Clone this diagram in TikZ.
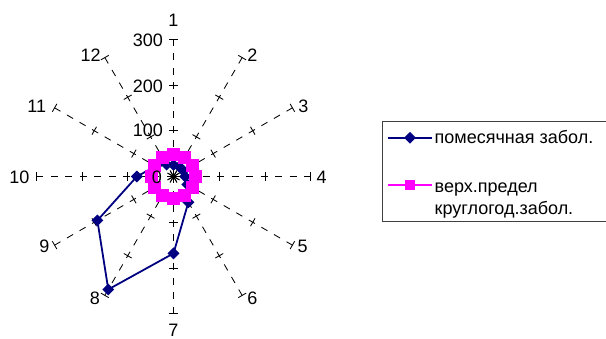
\documentclass[tikz,border=0pt]{standalone}
\usepackage{fontspec}
\setmainfont{Liberation Sans}
\usetikzlibrary{calc,shapes.geometric}
\definecolor{navyc}{RGB}{0,0,128}
\definecolor{magc}{RGB}{255,0,255}
\begin{document}
\begin{tikzpicture}[x=1pt,y=1pt,
  axisline/.style={black,line width=0.85pt,dash pattern=on 7pt off 7.5pt},
  tickmark/.style={black,line width=0.85pt},
  blueline/.style={draw=navyc,line width=1.8pt,line join=round},
  bluemark/.style={diamond,fill=navyc,draw=none,minimum width=12pt,minimum height=12pt,inner sep=0pt},
  magline/.style={draw=magc,line width=7pt,line join=miter},
  magmark/.style={rectangle,fill=magc,draw=none,minimum size=13.5pt,inner sep=0pt},
  legmag/.style={rectangle,fill=magc,draw=none,minimum size=10pt,inner sep=0pt},
  lbl/.style={font=\fontsize{18}{21}\selectfont,inner sep=0pt,text=black}]
\useasboundingbox (0,0) rectangle (606,339);
\coordinate (O) at (173.5,162.5);
% axes with ticks
\foreach \k in {1,...,12}{
  \pgfmathsetmacro\a{90-30*(\k-1)}
  \draw[axisline] (O) -- ($(O)+(\a:137.3)$) coordinate (A\k);
  \foreach \r in {45.77,91.53,137.3}{
    \draw[tickmark] ($(O)+(\a:\r)+(\a+90:4.5)$) -- ($(O)+(\a:\r)+(\a-90:4.5)$);
  }
}
% blue series (monthly)
\foreach \k/\v in {1/25,2/25,3/25,4/25,5/35,6/65,7/168,8/285,9/192,10/80,11/45,12/30}{
  \pgfmathsetmacro\a{90-30*(\k-1)}
  \coordinate (B\k) at ($(O)+(\a:\v*0.4577)$);
}
\draw[blueline] (B1)--(B2)--(B3)--(B4)--(B5)--(B6)--(B7)--(B8)--(B9)--(B10)--(B11)--(B12)--cycle;
\foreach \k in {1,...,12}{\node[bluemark] (BM\k) at (B\k) {};}
% magenta series (upper limit)
\foreach \k in {1,...,12}{
  \pgfmathsetmacro\a{90-30*(\k-1)}
  \coordinate (M\k) at ($(O)+(\a:22)$);
}
\draw[magline] (M1)--(M2)--(M3)--(M4)--(M5)--(M6)--(M7)--(M8)--(M9)--(M10)--(M11)--(M12)--cycle;
\foreach \k in {1,...,12}{\node[magmark] (MM\k) at (M\k) {};}
% centre star
\foreach \k in {1,...,12}{
  \draw[tickmark] (O) -- ($(O)!6.5pt!(A\k)$);
}
% value labels
\node[lbl,anchor=east] (v0) at (162,162) {0};
\node[lbl,anchor=east] (v100) at (163,208.7) {100};
\node[lbl,anchor=east] (v200) at (163,253) {200};
\node[lbl,anchor=east] (v300) at (163,298.3) {300};
% axis category labels
\node[lbl] (L1) at (173.3,319) {1};
\node[lbl] (L2) at (252.3,284) {2};
\node[lbl] (L3) at (303.3,233) {3};
\node[lbl] (L4) at (321.7,162) {4};
\node[lbl] (L5) at (302.7,92.3) {5};
\node[lbl] (L6) at (252.3,40.7) {6};
\node[lbl] (L7) at (173.3,8.5) {7};
\node[lbl] (L8) at (95,40.7) {8};
\node[lbl] (L9) at (44.3,92.3) {9};
\node[lbl] (L10) at (19.3,162) {10};
\node[lbl] (L11) at (36.7,233) {11};
\node[lbl] (L12) at (90.7,284) {12};
% legend
\draw[black!75,line width=0.8pt] (607,217.3) -- (382.5,217.3) -- (382.5,118) -- (607,118);
\coordinate (la1) at (388.3,201.3);
\coordinate (lb1) at (431.7,201.3);
\draw[blueline] (la1) -- (lb1);
\node[bluemark] (lm1) at ($(la1)!0.5!(lb1)$) {};
\node[lbl,anchor=base west] (lt1) at (434.5,195) {помесячная забол.};
\coordinate (la2) at (388.3,154);
\coordinate (lb2) at (431.7,154);
\draw[draw=magc,line width=1.5pt] (la2) -- (lb2);
\node[legmag] (lm2) at ($(la2)!0.5!(lb2)$) {};
\node[lbl,anchor=base west] (lt2) at (434.5,146.3) {верх.предел};
\node[lbl,anchor=base west] (lt3) at (434.5,124) {круглогод.забол.};
\end{tikzpicture}
\end{document}
